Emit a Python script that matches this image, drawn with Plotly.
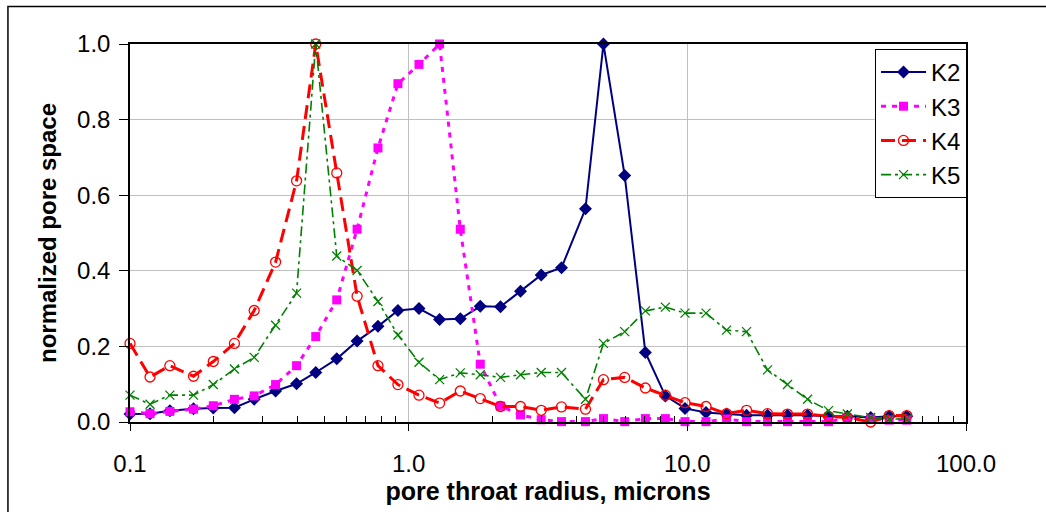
import plotly.graph_objects as go

# pore throat radius, microns (shared x for all samples)
radius = [0.100, 0.118, 0.139, 0.169, 0.199, 0.237, 0.279, 0.333, 0.396, 0.464,
          0.552, 0.653, 0.776, 0.915, 1.089, 1.291, 1.532, 1.807, 2.136, 2.520,
          2.990, 3.535, 4.310, 5.000, 5.96, 7.07, 8.34, 9.81, 11.67, 13.83,
          16.31, 19.40, 22.88, 27.0, 32.1, 37.5, 45.5, 53.0, 61.3]

k2 = [0.021, 0.022, 0.030, 0.035, 0.037, 0.038, 0.060, 0.082, 0.101, 0.131,
      0.167, 0.214, 0.253, 0.295, 0.300, 0.271, 0.273, 0.306, 0.305, 0.346,
      0.389, 0.408, 0.564, 1.000, 0.652, 0.184, 0.069, 0.036, 0.025, 0.021,
      0.018, 0.018, 0.018, 0.018, 0.015, 0.015, 0.012, 0.015, 0.015]

k3 = [0.027, 0.022, 0.028, 0.034, 0.043, 0.060, 0.069, 0.099, 0.149, 0.226,
      0.323, 0.510, 0.725, 0.895, 0.946, 1.000, 0.510, 0.153, 0.042, 0.019,
      0.006, 0.001, 0.001, 0.009, 0.001, 0.009, 0.009, 0.001, 0.001, 0.008,
      0.001, 0.001, 0.001, 0.001, 0.001, 0.010, 0.008, 0.005, 0.005]

k4 = [0.208, 0.119, 0.149, 0.121, 0.160, 0.208, 0.295, 0.423, 0.638, 1.000,
      0.659, 0.333, 0.149, 0.099, 0.071, 0.050, 0.082, 0.062, 0.041, 0.041,
      0.031, 0.040, 0.034, 0.112, 0.118, 0.090, 0.071, 0.051, 0.041, 0.022,
      0.031, 0.022, 0.021, 0.021, 0.015, 0.012, 0.000, 0.017, 0.017]

k5 = [0.071, 0.047, 0.071, 0.071, 0.099, 0.140, 0.171, 0.256, 0.341, 1.000,
      0.439, 0.401, 0.319, 0.230, 0.158, 0.112, 0.130, 0.125, 0.118, 0.125,
      0.131, 0.131, 0.060, 0.208, 0.239, 0.294, 0.304, 0.288, 0.288, 0.243,
      0.239, 0.138, 0.099, 0.060, 0.030, 0.021, 0.012, 0.008, 0.008]

x_tickvals = [0.1, 1, 10, 100]
x_ticktext = ["0.1", "1.0", "10.0", "100.0"]
x_minor = [0.2, 0.3, 0.4, 0.5, 0.6, 0.7, 0.8, 0.9,
           2, 3, 4, 5, 6, 7, 8, 9,
           20, 30, 40, 50, 60, 70, 80, 90]
y_tickvals = [0.0, 0.2, 0.4, 0.6, 0.8, 1.0]

FONT = "Arial, 'Liberation Sans', sans-serif"

fig = go.Figure()
fig.add_trace(go.Scatter(
    x=radius, y=k2, name="K2", mode="lines+markers", cliponaxis=False,
    line=dict(color="#000080", width=2),
    marker=dict(symbol="diamond", size=10, color="#000080")))
fig.add_trace(go.Scatter(
    x=radius, y=k3, name="K3", mode="lines+markers", cliponaxis=False,
    line=dict(color="#FF00FF", width=3, dash="5px,6px"),
    marker=dict(symbol="square", size=9, color="#FF00FF")))
fig.add_trace(go.Scatter(
    x=radius, y=k4, name="K4", mode="lines+markers", cliponaxis=False,
    line=dict(color="#FF0000", width=3, dash="14px,7px"),
    marker=dict(symbol="circle-open", size=10, color="#FF0000", line=dict(width=1.3))))
fig.add_trace(go.Scatter(
    x=radius, y=k5, name="K5", mode="lines+markers", cliponaxis=False,
    line=dict(color="#008000", width=1.6, dash="10px,4px,3px,4px"),
    marker=dict(symbol="x-thin", size=9, color="#008000", line=dict(width=1.3, color="#008000"))))

fig.update_layout(
    width=1046, height=512,
    margin=dict(l=130, r=80, t=44, b=86),
    paper_bgcolor="white", plot_bgcolor="white",
    font=dict(family=FONT, color="black", size=24),
    showlegend=True,
    legend=dict(x=1.0012, y=0.987, xanchor="right", yanchor="top",
                bgcolor="white", bordercolor="black", borderwidth=1,
                font=dict(size=24), itemwidth=45, tracegroupgap=0),
    shapes=[dict(type="rect", xref="paper", yref="paper",
                 x0=-0.146, x1=1.3, y0=-0.4, y1=1.0995,
                 line=dict(color="black", width=1.5), fillcolor="rgba(0,0,0,0)",
                 layer="below")],
)

fig.update_xaxes(
    type="log", range=[-1, 2], tickmode="array",
    tickvals=x_tickvals, ticktext=x_ticktext,
    ticks="outside", ticklen=7, tickwidth=1, tickcolor="black",
    showline=True, linecolor="black", linewidth=1.5, mirror=True,
    showgrid=True, gridcolor="#C0C0C0", gridwidth=1,
    zeroline=False, ticklabelstandoff=12, tickfont=dict(size=24),
    minor=dict(tickmode="array", tickvals=x_minor, ticks="inside",
               ticklen=6, tickcolor="black", tickwidth=1, showgrid=False),
    title=dict(text="<b>pore throat radius, microns</b>", font=dict(size=25), standoff=6),
)
fig.update_yaxes(
    range=[0, 1], tickmode="array", tickvals=y_tickvals, tickformat=".1f",
    ticks="outside", ticklen=9, tickwidth=1, tickcolor="black",
    showline=True, linecolor="black", linewidth=1.5, mirror=True,
    showgrid=True, gridcolor="#C0C0C0", gridwidth=1,
    zeroline=False, ticklabelstandoff=4, tickfont=dict(size=24),
    title=dict(text="<b>normalized pore space</b>", font=dict(size=24), standoff=14),
)

fig.write_html("out.html")
